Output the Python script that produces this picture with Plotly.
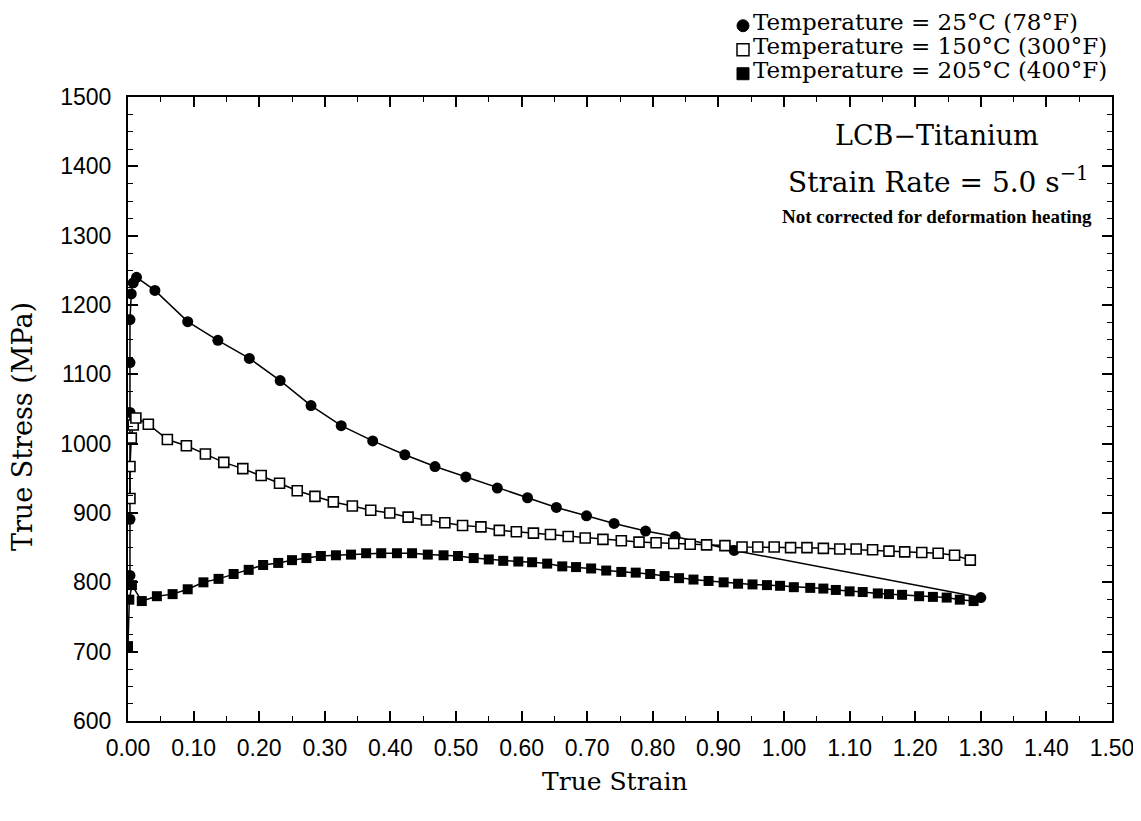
import plotly.graph_objects as go

# 25 C (78 F) - filled circles
strain_25 = [0.003, 0.003, 0.003, 0.003, 0.003, 0.005, 0.008, 0.013, 0.041, 0.091, 0.137, 0.185,
             0.232, 0.279, 0.325, 0.373, 0.422, 0.468, 0.515, 0.563, 0.609, 0.653, 0.699, 0.741,
             0.789, 0.834, 0.924, 1.300]
stress_25 = [810, 891, 1045, 1117, 1179, 1216, 1232, 1240, 1221, 1176, 1149, 1123,
             1091, 1055, 1026, 1004, 984, 967, 952, 936, 922, 908, 896, 885,
             874, 866, 846, 778]

# 150 C (300 F) - open squares
strain_150 = [0.003, 0.003, 0.005, 0.008, 0.012, 0.031, 0.060, 0.089, 0.118, 0.146, 0.175, 0.203,
              0.231, 0.258, 0.285, 0.313, 0.342, 0.370, 0.399, 0.427, 0.455, 0.483, 0.510, 0.538,
              0.566, 0.592, 0.618, 0.644, 0.671, 0.697, 0.724, 0.752, 0.779, 0.805, 0.832, 0.857,
              0.882, 0.910, 0.936, 0.960, 0.985, 1.010, 1.035, 1.060, 1.085, 1.110, 1.135, 1.160,
              1.184, 1.210, 1.235, 1.260, 1.284]
stress_150 = [921, 967, 1008, 1027, 1037, 1028, 1006, 997, 985, 973, 964, 954,
              943, 932, 924, 916, 910, 904, 900, 894, 890, 886, 882, 880,
              875, 873, 871, 869, 866, 864, 862, 860, 858, 857, 856, 855,
              854, 853, 851, 851, 851, 850, 850, 849, 848, 848, 847, 845,
              844, 843, 842, 839, 832]

# 205 C (400 F) - filled squares
strain_205 = [0.000, 0.002, 0.006, 0.021, 0.044, 0.068, 0.091, 0.115, 0.138, 0.161, 0.184, 0.206,
              0.229, 0.250, 0.272, 0.294, 0.317, 0.340, 0.363, 0.386, 0.410, 0.433, 0.457, 0.481,
              0.503, 0.527, 0.550, 0.572, 0.595, 0.616, 0.639, 0.662, 0.683, 0.706, 0.729, 0.752,
              0.774, 0.796, 0.818, 0.840, 0.862, 0.885, 0.908, 0.930, 0.952, 0.974, 0.994, 1.015,
              1.040, 1.060, 1.079, 1.100, 1.120, 1.143, 1.160, 1.180, 1.206, 1.227, 1.248, 1.268,
              1.289]
stress_205 = [708, 775, 796, 773, 780, 783, 790, 800, 805, 812, 818, 825,
              828, 832, 835, 838, 839, 840, 842, 842, 842, 842, 840, 839,
              838, 835, 833, 831, 830, 829, 827, 823, 822, 820, 817, 815,
              814, 812, 809, 806, 804, 802, 800, 798, 797, 796, 795, 793,
              792, 791, 789, 787, 786, 784, 783, 782, 780, 779, 778, 775,
              773]

legend_names = ["Temperature = 25\u00b0C (78\u00b0F)",
                "Temperature = 150\u00b0C (300\u00b0F)",
                "Temperature = 205\u00b0C (400\u00b0F)"]

x_ticks = [round(i * 0.1, 2) for i in range(16)]
x_labels = [f"{v:.2f}" for v in x_ticks]
y_ticks = list(range(600, 1501, 100))

SERIF = "DejaVu Serif, Liberation Serif, serif"
TIMES = "Liberation Serif, serif"
SANS = "Liberation Sans, Arial, sans-serif"

fig = go.Figure()

line = dict(color="black", width=1.5)
fig.add_trace(go.Scatter(x=strain_25, y=stress_25, mode="lines+markers", line=line,
                         marker=dict(symbol="circle", size=11, color="black"), showlegend=False))
fig.add_trace(go.Scatter(x=strain_150, y=stress_150, mode="lines+markers", line=line,
                         marker=dict(symbol="square", size=10, color="white",
                                     line=dict(color="black", width=1.6)), showlegend=False))
fig.add_trace(go.Scatter(x=strain_205, y=stress_205, mode="lines+markers", line=line,
                         marker=dict(symbol="square", size=10, color="black"), showlegend=False))

axis_common = dict(showline=True, linecolor="black", linewidth=2, mirror="ticks",
                   ticks="inside", tickcolor="black", tickwidth=1.5, showgrid=False,
                   zeroline=False, automargin=False)

fig.update_xaxes(range=[0, 1.5], tickvals=x_ticks, ticktext=x_labels, ticklen=10,
                 tickfont=dict(family=SANS, size=23, color="black"), ticklabelstandoff=5,
                 minor=dict(dtick=0.05, tick0=0, ticks="inside", ticklen=5, tickcolor="black",
                            tickwidth=1.2),
                 **axis_common)
fig.update_yaxes(range=[600, 1500], tickvals=y_ticks, ticklen=10,
                 tickfont=dict(family=SANS, size=23, color="black"), ticklabelstandoff=10,
                 minor=dict(dtick=25, tick0=600, ticks="inside", ticklen=5, tickcolor="black",
                            tickwidth=1.2),
                 **axis_common)

# axis titles
fig.add_annotation(x=0.4949, y=-0.0962, xref="paper", yref="paper", text="True Strain",
                   showarrow=False, font=dict(family=SERIF, size=25, color="black"),
                   xanchor="center", yanchor="middle")
fig.add_annotation(x=-0.1077, y=0.471, xref="paper", yref="paper", text="True Stress (MPa)",
                   showarrow=False, textangle=-90, font=dict(family=SERIF, size=27, color="black"),
                   xanchor="center", yanchor="middle")

# titles inside the plot
fig.add_annotation(x=1.233, y=1444, xref="x", yref="y", text="LCB\u2212Titanium", showarrow=False,
                   font=dict(family=SERIF, size=27, color="black"), xanchor="center", yanchor="middle")
fig.add_annotation(x=1.236, y=1380, xref="x", yref="y",
                   text="Strain Rate = 5.0 s<sup>\u22121</sup>", showarrow=False,
                   font=dict(family=SERIF, size=28, color="black"), xanchor="center", yanchor="middle")
fig.add_annotation(x=1.233, y=1327, xref="x", yref="y",
                   text="<b>Not corrected for deformation heating</b>", showarrow=False,
                   font=dict(family=TIMES, size=19, color="black"), xanchor="center", yanchor="middle")

# key (above the plot, top right)
key_y = [1.1202, 1.0817, 1.0433]
key_x_sym = 0.625
key_x_txt = 0.633
for name, ky in zip(legend_names, key_y):
    fig.add_annotation(x=key_x_txt, y=ky, xref="paper", yref="paper", text=name, showarrow=False,
                       font=dict(family=SERIF, size=23, color="black"), xanchor="left",
                       yanchor="middle")
dx = 6.0 / 984
dy = 6.0 / 624
off = 0.006
fig.add_shape(type="circle", xref="paper", yref="paper",
              x0=key_x_sym - dx, x1=key_x_sym + dx, y0=key_y[0] - dy - off, y1=key_y[0] + dy - off,
              fillcolor="black", line=dict(color="black", width=1))
fig.add_shape(type="rect", xref="paper", yref="paper",
              x0=key_x_sym - dx, x1=key_x_sym + dx, y0=key_y[1] - dy - off, y1=key_y[1] + dy - off,
              fillcolor="white", line=dict(color="black", width=1.5))
fig.add_shape(type="rect", xref="paper", yref="paper",
              x0=key_x_sym - dx, x1=key_x_sym + dx, y0=key_y[2] - dy - off, y1=key_y[2] + dy - off,
              fillcolor="black", line=dict(color="black", width=1))

fig.update_layout(
    width=1141, height=821,
    margin=dict(l=120, r=37, t=89, b=108, autoexpand=False),
    paper_bgcolor="white", plot_bgcolor="white",
    showlegend=False,
)

fig.write_html("out.html")
